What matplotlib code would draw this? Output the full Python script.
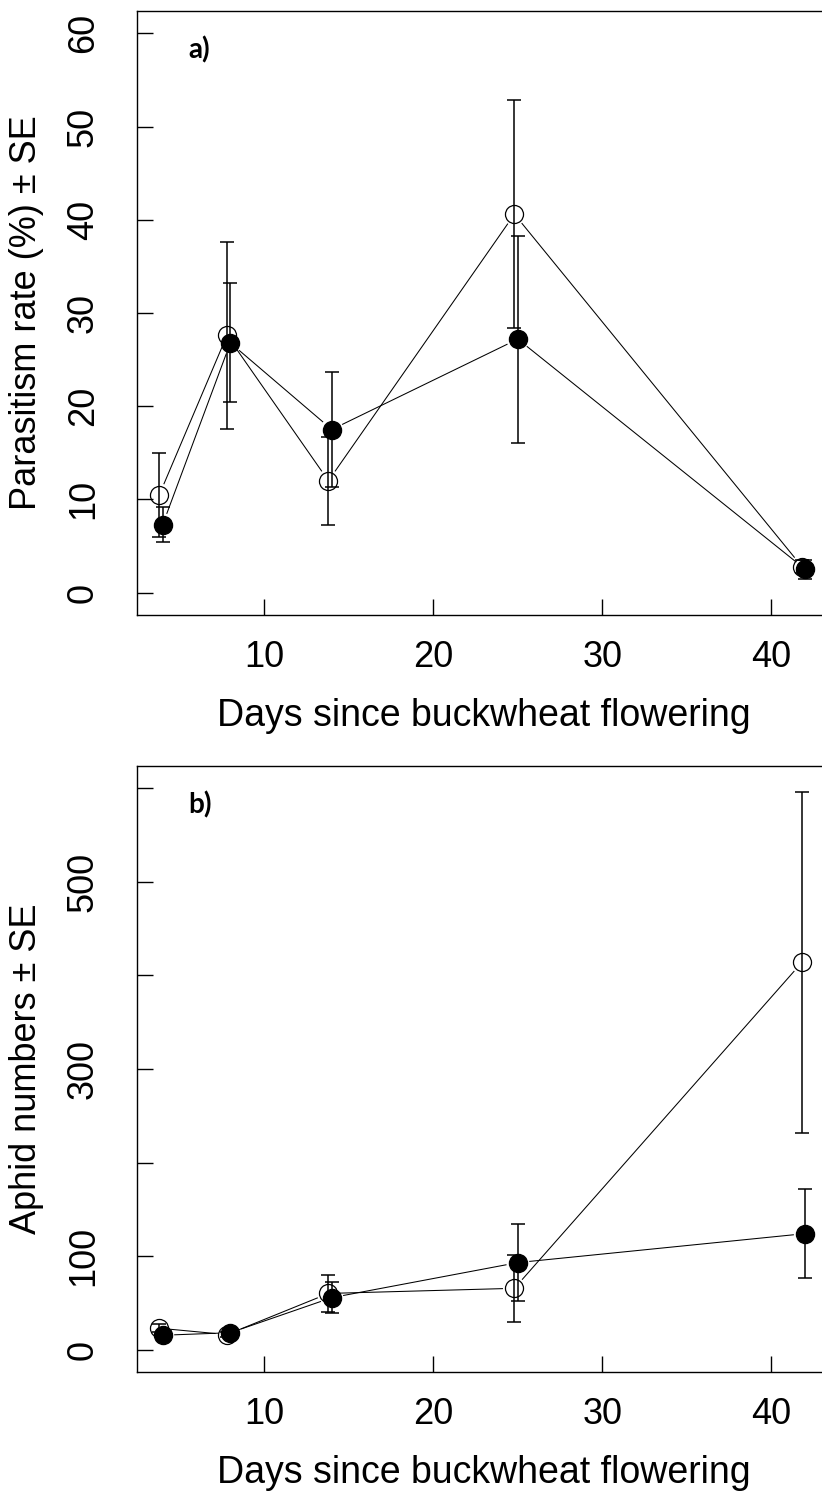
import matplotlib.pyplot as plt
import numpy as np

# sampling days (filled series); open series is drawn slightly to the left
days = [4, 8, 14, 25, 42]
offset = 0.2

# a) parasitism rate (%) +- SE
para_open = [10.5, 27.6, 12.0, 40.6, 2.8]
para_open_se = [4.5, 10.0, 4.7, 12.2, 0.7]
para_fill = [7.3, 26.8, 17.5, 27.2, 2.5]
para_fill_se = [1.9, 6.4, 6.2, 11.1, 1.0]

# b) aphid numbers +- SE
aphid_open = [22.8, 16.0, 60.0, 65.5, 414.0]
aphid_open_se = [4.0, 3.0, 20.0, 35.7, 182.5]
aphid_fill = [15.3, 18.0, 55.5, 93.0, 124.0]
aphid_fill_se = [3.0, 3.0, 16.5, 41.6, 48.0]

xticks = [10, 20, 30, 40]
a_yticks = [0, 10, 20, 30, 40, 50, 60]
a_ylabels = ['0', '10', '20', '30', '40', '50', '60']
b_yticks = [0, 100, 200, 300, 400, 500, 600]
b_ylabels = ['0', '100', '', '300', '', '500', '']

plt.rcParams['font.family'] = ['Liberation Sans', 'DejaVu Sans']

W, H = 822, 1501
fig = plt.figure(figsize=(W / 100, H / 100), dpi=100)


def px_axes(left, top, right, bottom):
    # axes placed in pixel units (right edge runs past the figure, like the original crop)
    return fig.add_axes([left / W, 1 - bottom / H, (right - left) / W, (bottom - top) / H])


def gapped_line(ax, x, y, gap=12):
    # R type="b": segments stop short of the points
    pts = ax.transData.transform(np.column_stack([x, y]))
    inv = ax.transData.inverted()
    for p0, p1 in zip(pts[:-1], pts[1:]):
        d = p1 - p0
        L = np.hypot(d[0], d[1])
        if L <= 2 * gap:
            continue
        u = d / L
        seg = inv.transform(np.array([p0 + u * gap, p1 - u * gap]))
        ax.plot(seg[:, 0], seg[:, 1], color='black', lw=0.75, zorder=2)


def panel(ax, yo, yo_se, yf, yf_se, ylim, yticks, ylabels, ylabel, tag):
    ax.set_xlim(2.48, 43.52)
    ax.set_ylim(*ylim)
    xo = np.array(days) - offset
    xf = np.array(days, dtype=float)

    gapped_line(ax, xo, yo)
    gapped_line(ax, xf, yf)
    ax.errorbar(xo, yo, yerr=yo_se, fmt='none', ecolor='black', elinewidth=1.1,
                capsize=5, capthick=1.1, zorder=3)
    ax.errorbar(xf, yf, yerr=yf_se, fmt='none', ecolor='black', elinewidth=1.1,
                capsize=5, capthick=1.1, zorder=3)
    ax.plot(xo, yo, 'o', ms=13, mfc='none', mec='black', mew=0.9, zorder=4)
    ax.plot(xf, yf, 'o', ms=13, mfc='black', mec='black', zorder=5)

    for s in ax.spines.values():
        s.set_linewidth(1.0)
    ax.set_xticks(xticks)
    ax.set_xticklabels([str(t) for t in xticks])
    ax.set_yticks(yticks)
    ax.set_yticklabels(ylabels, rotation=90, va='center')
    ax.tick_params(direction='in', length=11.5, width=1.0, labelsize=26)
    ax.tick_params(axis='x', pad=18)
    ax.tick_params(axis='y', pad=26)

    ax.set_xlabel('Days since buckwheat flowering', fontsize=27)
    ax.xaxis.set_label_coords(0.5, -0.137)
    ax.set_ylabel(ylabel, fontsize=26)
    ax.yaxis.set_label_coords(-0.134, 0.5)

    ax.text(0.0735, 0.936, tag, transform=ax.transAxes, fontsize=20,
            fontweight='bold', family='Lato', ha='left', va='center')


ax1 = px_axes(137, 11, 831, 615)
panel(ax1, para_open, para_open_se, para_fill, para_fill_se, (-2.4, 62.4),
      a_yticks, a_ylabels, 'Parasitism rate (%) ± SE', 'a)')

ax2 = px_axes(137, 766, 831, 1372)
panel(ax2, aphid_open, aphid_open_se, aphid_fill, aphid_fill_se, (-24, 624),
      b_yticks, b_ylabels, 'Aphid numbers ± SE', 'b)')

fig.savefig('out.png', dpi=100)
